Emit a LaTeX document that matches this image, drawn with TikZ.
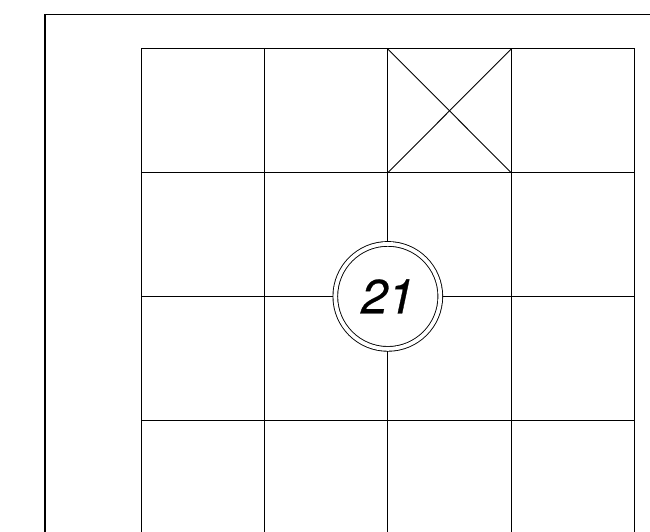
\documentclass[tikz,border=0pt]{standalone}
\usepackage{fontspec}
\setsansfont{TeX Gyre Heros}
\tikzset{
  every node/.style = {font=\sffamily},
  trazo/.style      = {draw=black, line width=1pt},
  marco/.style      = {trazo, line width=1.2pt},
  aspa/.style       = {trazo, line width=0.9pt},
  sello/.style      = {circle, draw=black, double, double distance=3.8pt,
                       line width=0.9pt, fill=white, minimum size=105pt,
                       inner sep=0pt,
                       font=\sffamily\itshape\fontsize{48}{48}\selectfont},
}
\begin{document}
\begin{tikzpicture}[x=1pt,y=-1pt]
\useasboundingbox (0,0) rectangle (650,532);

% =============================================================================
% Marco exterior
% =============================================================================
\coordinate (msd) at (650,14.5);
\coordinate (msi) at (45,14.5);
\coordinate (mii) at (45,532);
\draw[marco] (msd) -- (msi) -- (mii);

% =============================================================================
% Cuadricula
% =============================================================================
\foreach \i in {0,...,4}
  \draw[trazo] ({141+123.4*\i},49) -- ({141+123.4*\i},532);
\foreach \j in {0,...,3}
  \draw[trazo] (141,{49+123.7*\j}) -- (634.6,{49+123.7*\j});

% casilla tachada
\coordinate (xa) at (387.8,49);
\coordinate (xb) at (511.2,49);
\coordinate (xc) at (387.8,172.7);
\coordinate (xd) at (511.2,172.7);
\draw[aspa] (xa) -- (xd);
\draw[aspa] (xb) -- (xc);

% =============================================================================
% Sello central
% =============================================================================
\node[sello] (n21) at (387.8,296.4) {\addfontfeature{FakeBold=0.6}21};

\end{tikzpicture}
\end{document}
